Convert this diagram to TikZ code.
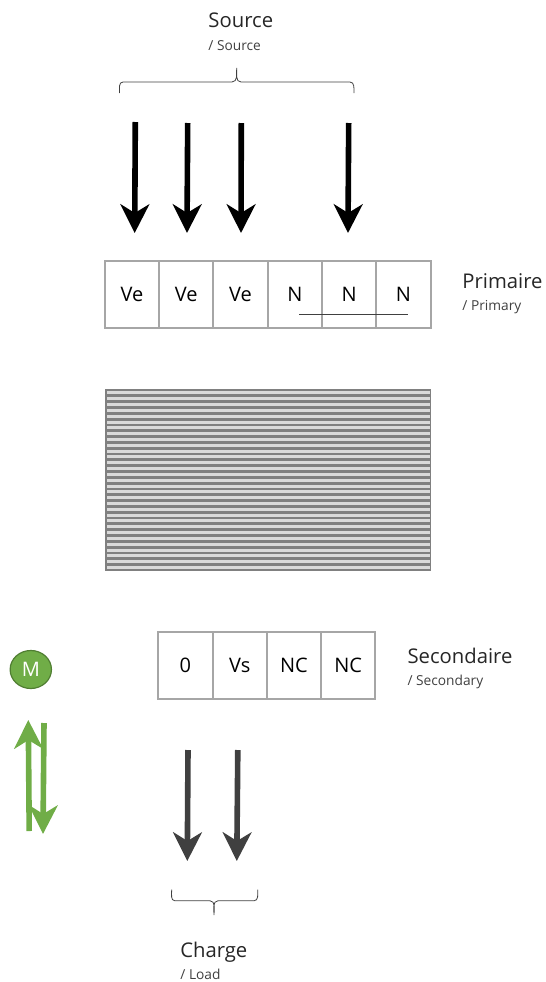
\documentclass[tikz,border=0pt]{standalone}
\usepackage{fontspec}
\setmainfont{Open Sans}
\usetikzlibrary{arrows.meta, shapes.geometric}
\definecolor{cellgray}{HTML}{A6A6A6}
\definecolor{coregray}{HTML}{808080}
\definecolor{corelight}{HTML}{DADADA}
\definecolor{darkarrow}{HTML}{404040}
\definecolor{bracegray}{HTML}{404040}
\definecolor{motorgreen}{HTML}{70AD47}
\definecolor{motoredge}{HTML}{507E32}
\tikzset{
	cellbox/.style={draw=cellgray, line width=1.5pt, minimum height=50pt, inner sep=0pt, font=\fontsize{15}{18}\selectfont},
	pricell/.style={cellbox, minimum width=40.75pt},
	seccell/.style={cellbox, minimum width=40.69pt},
	titletext/.style={anchor=base west, inner sep=0pt, font=\fontsize{15.2}{18}\selectfont, text=black!85},
	subtext/.style={anchor=base west, inner sep=0pt, font=\fontsize{10.3}{12}\selectfont, text=darkarrow},
	flowarrow/.style={line width=4.2pt, -{Stealth[length=21.5pt, width=21.5pt, inset=6.5pt]}},
	bracket/.style={bracegray, line width=0.6pt}
}
\begin{document}
\begin{tikzpicture}[x=0.75pt, y=-0.75pt]
\useasboundingbox (0,0) rectangle (546,982);

\node[titletext] (srctitle) at (208.2, 27.5) {Source};
\node[subtext] (srcsub) at (208.2, 50) {/ Source};

\draw[bracket] (119.5, 93) to[out=90, in=180] (123, 82) -- (232, 82) to[out=0, in=-90] (236.7, 68)
									to[out=-90, in=180] (241, 82) -- (350, 82) to[out=0, in=90] (354, 93);

\coordinate (srcAtop) at (135.3, 122);
\coordinate (srcAend) at (134.7, 233);
\coordinate (srcBtop) at (187.7, 123);
\coordinate (srcBend) at (187, 233);
\coordinate (srcCtop) at (241.3, 123);
\coordinate (srcCend) at (241, 233);
\coordinate (srcDtop) at (348.7, 123);
\coordinate (srcDend) at (348, 233);
\draw[flowarrow, black] (srcAtop) -- (srcAend);
\draw[flowarrow, black] (srcBtop) -- (srcBend);
\draw[flowarrow, black] (srcCtop) -- (srcCend);
\draw[flowarrow, black] (srcDtop) -- (srcDend);

\node[pricell] (priA) at (131.9, 294.5) {Ve};
\node[pricell] (priB) at (186.2, 294.5) {Ve};
\node[pricell] (priC) at (240.5, 294.5) {Ve};
\node[pricell] (priD) at (294.9, 294.5) {N};
\node[pricell] (priE) at (349.2, 294.5) {N};
\node[pricell] (priF) at (403.5, 294.5) {N};

\coordinate (linkL) at (299.3, 314.5);
\coordinate (linkR) at (407.7, 314.5);
\draw[bracegray, line width=0.7pt] (linkL) -- (linkR);

\node[titletext] (prititle) at (462.2, 288) {Primaire};
\node[subtext] (prisub) at (462.2, 310.5) {/ Primary};

\fill[coregray] (105.3, 389) rectangle (431, 571);
\foreach \i in {0,...,30}{
	\fill[corelight] (107, 391.4+5.82*\i) rectangle (430, 394.4+5.82*\i);
}

\node[seccell] (secA) at (185.4, 665.7) {0};
\node[seccell] (secB) at (239.7, 665.7) {Vs};
\node[seccell] (secC) at (293.9, 665.7) {NC};
\node[seccell] (secD) at (348.2, 665.7) {NC};

\node[titletext] (sectitle) at (407.3, 663) {Secondaire};
\node[subtext] (secsub) at (407.3, 685.5) {/ Secondary};

\node[draw=motoredge, fill=motorgreen, line width=0.9pt, ellipse, minimum width=31pt, minimum height=28.5pt, inner sep=0pt, text=white, font=\fontsize{15}{18}\selectfont] (motor) at (30.8, 669.5) {M};

\coordinate (upA) at (29.2, 831);
\coordinate (upB) at (28.3, 720);
\coordinate (downA) at (44, 723);
\coordinate (downB) at (43, 834);
\draw[flowarrow, motorgreen] (upA) -- (upB);
\draw[flowarrow, motorgreen] (downA) -- (downB);

\coordinate (loadAtop) at (188, 750);
\coordinate (loadAend) at (187.3, 861);
\coordinate (loadBtop) at (237.8, 750);
\coordinate (loadBend) at (236.8, 861);
\draw[flowarrow, darkarrow] (loadAtop) -- (loadAend);
\draw[flowarrow, darkarrow] (loadBtop) -- (loadBend);

\draw[bracket] (171.7, 889.5) to[out=-90, in=180] (175, 900.8) -- (210, 900.8) to[out=0, in=90] (214, 915)
									to[out=90, in=180] (218, 900.8) -- (254, 900.8) to[out=0, in=-90] (257.7, 889.5);

\node[titletext] (loadtitle) at (180, 957) {Charge};
\node[subtext] (loadsub) at (180.2, 979) {/ Load};
\end{tikzpicture}
\end{document}
